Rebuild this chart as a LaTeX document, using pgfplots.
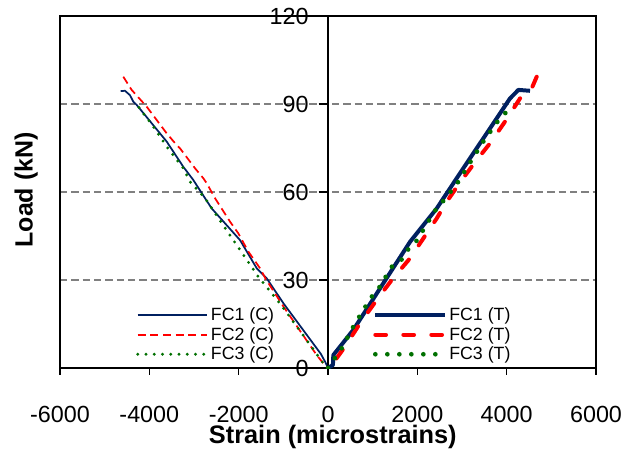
\documentclass[border=0pt]{standalone}
\usepackage{pgfplots}
\pgfplotsset{compat=1.18}
\usepackage{fontspec}
\setmainfont{Liberation Sans}
\definecolor{navyc}{RGB}{0,32,96}
\definecolor{redc}{RGB}{255,0,0}
\definecolor{greenc}{RGB}{0,112,0}

\pgfplotsset{
  base/.style={
    width=402pt, height=264pt, scale only axis,
    xmin=-6000, xmax=6000, ymin=0, ymax=120,
    scaled ticks=false,
    /pgf/number format/assume math mode=true,
    /pgf/number format/1000 sep={},
    tick label style={font=\fontsize{17.5}{20}\selectfont},
    axis line style={line width=1pt},
    tick style={line width=1pt, black},
    legend style={draw=none, fill=none, font=\fontsize{13.3}{15}\selectfont,
      nodes={inner sep=1.75pt}, row sep=0pt},
    legend cell align=left,
    legend image code/.code={\draw[##1] (0pt,0pt) -- (52pt,0pt);},
  },
}

\begin{document}
\begin{tikzpicture}
\begin{axis}[base, name=ax,
  xtick={-6000,-4000,...,6000}, xtick pos=bottom, tick align=outside,
  major tick length=5pt,
  ytick={30,60,90}, yticklabels={}, ymajorgrids, y tick style={draw=none},
  major grid style={gray, dash pattern=on 5.5pt off 3pt, line width=0.9pt},
  xticklabel style={inner sep=0pt, yshift=-23.3pt},
  xlabel={Strain (microstrains)}, ylabel={Load (kN)},
  xlabel style={font=\bfseries\fontsize{19}{22}\selectfont, inner sep=0pt,
    at={(axis description cs:0.509,-0.196)}, anchor=center},
  ylabel style={font=\bfseries\fontsize{18.7}{22}\selectfont, inner sep=0pt,
    at={(axis description cs:-0.063,0.506)}, anchor=center},
  legend style={at={(axis description cs:0.134,0.186)}, anchor=north west},
]
\addplot[navyc, line width=1.3pt] coordinates {
  (0,0) (-60,2) (-160,4.8) (-1000,22.1) (-1373,30.6) (-1596,34) (-1970,43.6)
  (-2604,54.4) (-2754,57.9) (-3016,64.1) (-3240,68.6) (-3612,77.2)
  (-4284,89.7) (-4360,90.8) (-4433,93) (-4545,94.5) (-4641,94.4)
};
\addlegendentry{FC1 (C)}
\addplot[redc, line width=1.3pt, dash pattern=on 6pt off 3.5pt] coordinates {
  (-4583,99.3) (-4396,94.8) (-4060,89.1) (-3612,80) (-3388,76) (-3314,74.9)
  (-2978,68.1) (-2792,64.7) (-2716,63) (-2530,57.9) (-2194,49.9) (-2008,45.9)
  (-1784,39.7) (-1522,34) (-1400,30.5) (-1000,21) (-253,4.4) (-100,1.5) (0,0)
};
\addlegendentry{FC2 (C)}
\addplot[greenc, line width=2.4pt, line cap=round, dash pattern=on 0pt off 6.2pt] coordinates {
  (0,0) (-105,1.6) (-477,9.5) (-1075,22) (-1560,31.1) (-2120,43.6)
  (-2754,57.9) (-3090,63.5) (-3240,68.1) (-3612,75.5) (-3911,82.3) (-4247,89.1)
};
\addlegendentry{FC3 (C)}
\end{axis}

\begin{axis}[base, at={(ax.south west)}, anchor=south west,
  axis x line=none, axis y line*=center, xtick=\empty,
  ytick={0,30,...,120}, tick align=outside, major tick length=7pt,
  yticklabel style={xshift=-4pt},
  legend style={at={(axis description cs:0.576,0.186)}, anchor=north west},
]
\addplot[navyc, line width=3pt, line join=round] coordinates {
  (0,0) (110,1) (119,4.4) (567,13) (1239,28.9) (1836,43) (2434,54.4)
  (3030,68.1) (3777,85.1) (4075,91.9) (4262,94.8) (4523,94.5)
};
\addlegendentry{FC1 (T)}
\addplot[redc, line width=3pt, line cap=round, dash pattern=on 8pt off 13pt] coordinates {
  (4672,99.3) (4560,95.3) (4299,91.9) (3963,84) (3627,76.6) (3329,70.9)
  (2994,64.1) (2658,56.7) (2434,51) (1836,37.4) (1426,30) (1090,23.2)
  (716,15.2) (381,7.3) (83,1) (0,0)
};
\addlegendentry{FC2 (T)}
\addplot[greenc, line width=3.5pt, line cap=round, dash pattern=on 0pt off 9pt] coordinates {
  (0,0) (306,6.7) (567,14.1) (828,20.7) (978,24.3) (1149,27.5) (1426,34.5)
  (1650,37) (1799,40.5) (1985,43.4) (2246,49.9) (2396,53.6) (2568,56.7)
  (2896,63) (3179,70) (3478,77.2) (3791,83.9) (3963,86.8) (4149,89.9)
};
\addlegendentry{FC3 (T)}
\end{axis}
\pgfresetboundingbox
\path (ax.south west) +(-45pt,-68.25pt) (ax.north east) +(23.25pt,12pt);
\end{tikzpicture}
\end{document}
